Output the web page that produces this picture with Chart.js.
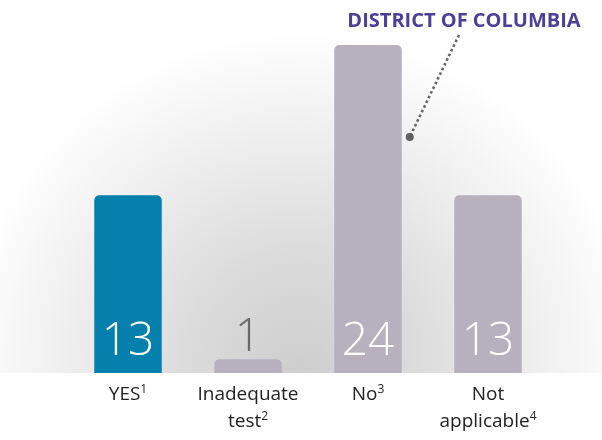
<!DOCTYPE html>
<html>
<head>
<meta charset="utf-8">
<script src="https://cdn.jsdelivr.net/npm/chart.js@4"></script>
<style>
  html, body { margin: 0; padding: 0; background: #fff; }
  canvas { display: block; }
</style>
</head>
<body>
<canvas id="chart" width="602" height="440"></canvas>
<script>
// chart data
const categories = [['YES'], ['Inadequate', 'test'], ['No'], ['Not', 'applicable']];
const footnotes = ['1', '2', '3', '4'];
const values = [13, 1, 24, 13];
const barColors = ['#0580ad', '#b7b1bf', '#b7b1bf', '#b7b1bf'];
const calloutText = 'DISTRICT OF COLUMBIA';
const calloutIndex = 2;

// soft grey glow behind the bars
const backgroundPlugin = {
    id: 'glow',
    beforeDraw(chart) {
        const ctx = chart.ctx;
        const area = chart.chartArea;
        const g = ctx.createRadialGradient(300, 370, 0, 300, 370, 340);
        g.addColorStop(0, '#cecece');
        g.addColorStop(0.35, '#dcdcdc');
        g.addColorStop(0.7, '#efefef');
        g.addColorStop(1, '#ffffff');
        ctx.save();
        ctx.fillStyle = '#ffffff';
        ctx.fillRect(0, 0, chart.width, chart.height);
        ctx.fillStyle = g;
        ctx.fillRect(0, 0, chart.width, area.bottom);
        ctx.restore();
    }
};

// numbers on bars, category labels with footnote marks, callout
const labelsPlugin = {
    id: 'labels',
    afterDatasetsDraw(chart) {
        const ctx = chart.ctx;
        const meta = chart.getDatasetMeta(0);
        const xScale = chart.scales.x;
        ctx.save();
        ctx.textAlign = 'center';
        ctx.textBaseline = 'alphabetic';

        meta.data.forEach((bar, i) => {
            ctx.font = '300 46px "Open Sans"';
            const inside = (bar.base - bar.y) > 60;
            if (inside) {
                ctx.fillStyle = '#ffffff';
                ctx.fillText(String(values[i]), bar.x, bar.base - 18);
            } else {
                ctx.fillStyle = '#6a6a6a';
                ctx.fillText(String(values[i]), bar.x, bar.y - 8);
            }
        });

        // category labels
        categories.forEach((lines, i) => {
            const x = xScale.getPixelForValue(i);
            lines.forEach((line, j) => {
                const y = chart.chartArea.bottom + 27 + j * 27;
                ctx.font = '19px "Open Sans"';
                ctx.fillStyle = '#222222';
                const last = j === lines.length - 1;
                const w = ctx.measureText(line).width;
                let supW = 0;
                if (last) {
                    ctx.font = '12px "Open Sans"';
                    supW = ctx.measureText(footnotes[i]).width;
                }
                const left = x - (w + supW) / 2;
                ctx.font = '19px "Open Sans"';
                ctx.textAlign = 'left';
                ctx.fillText(line, left, y);
                if (last) {
                    ctx.font = '12px "Open Sans"';
                    ctx.fillText(footnotes[i], left + w, y - 7);
                }
                ctx.textAlign = 'center';
            });
        });

        // callout
        const target = meta.data[calloutIndex];
        const dotX = target.x + target.width / 2 + 8;
        const dotY = 137;
        ctx.strokeStyle = '#666666';
        ctx.lineWidth = 2.6;
        ctx.setLineDash([2.6, 2.6]);
        ctx.beginPath();
        ctx.moveTo(459, 35);
        ctx.lineTo(dotX, dotY);
        ctx.stroke();
        ctx.setLineDash([]);
        ctx.fillStyle = '#606060';
        ctx.beginPath();
        ctx.arc(dotX, dotY, 4, 0, Math.PI * 2);
        ctx.fill();

        ctx.font = 'bold 20px "Open Sans"';
        ctx.fillStyle = '#4b3f97';
        ctx.textAlign = 'center';
        ctx.fillText(calloutText, 464, 27);
        ctx.restore();
    }
};

new Chart(document.getElementById('chart'), {
    type: 'bar',
    data: {
        labels: categories.map(c => c.join(' ')),
        datasets: [{
            data: values,
            backgroundColor: barColors,
            borderRadius: { topLeft: 5, topRight: 5 },
            borderSkipped: 'bottom',
            barPercentage: 0.5625,
            categoryPercentage: 1
        }]
    },
    options: {
        responsive: false,
        animation: false,
        layout: { padding: { left: 68, right: 54, top: 45, bottom: 67 } },
        plugins: { legend: { display: false }, tooltip: { enabled: false } },
        scales: {
            x: { display: false },
            y: { display: false, min: 0, max: 24 }
        }
    },
    plugins: [backgroundPlugin, labelsPlugin]
});
</script>
</body>
</html>
